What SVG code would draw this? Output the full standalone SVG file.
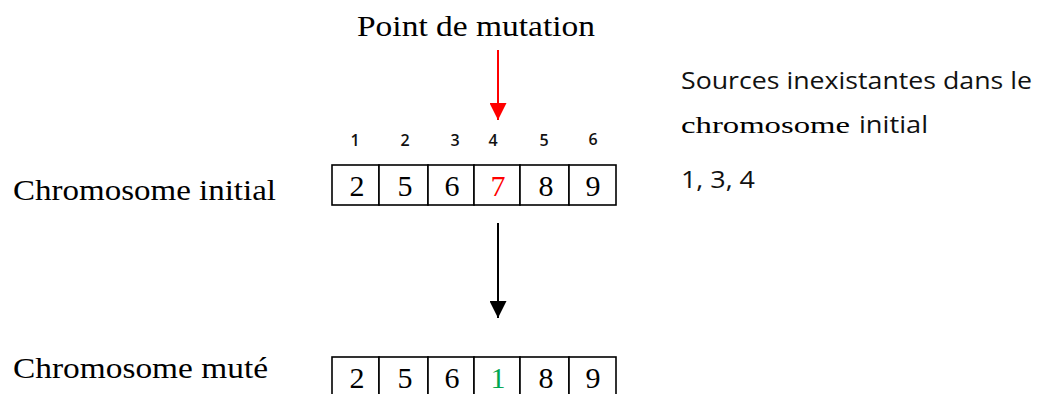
<svg xmlns="http://www.w3.org/2000/svg" width="1037" height="394" viewBox="0 0 1037 394">
  <style>
    .serif { font-family: "Liberation Serif", "DejaVu Serif", serif; fill: #000; }
    .sans { font-family: "Open Sans", "Liberation Sans", sans-serif; fill: #111; }
    .label { font-size: 30px; }
    .gene { font-size: 30px; text-anchor: middle; }
    .idx { font-size: 16px; text-anchor: middle; font-weight: 600; }
    .note { font-size: 23px; }
    .cell { fill: #fff; stroke: #000; stroke-width: 1.6; }
  </style>
  <defs>
    <marker id="headRed" viewBox="0 0 10 10" refX="10" refY="5" markerWidth="17" markerHeight="17" markerUnits="userSpaceOnUse" orient="auto">
      <path d="M0,0 L10,5 L0,10 Z" fill="#ff0000"/>
    </marker>
    <marker id="headBlack" viewBox="0 0 10 10" refX="10" refY="5" markerWidth="17" markerHeight="17" markerUnits="userSpaceOnUse" orient="auto">
      <path d="M0,0 L10,5 L0,10 Z" fill="#000"/>
    </marker>
  </defs>

  <rect width="1037" height="394" fill="#fff"/>

  <g id="title">
    <text class="serif label" x="357" y="36" textLength="238" lengthAdjust="spacingAndGlyphs">Point de mutation</text>
  </g>

  <g id="connectors">
    <line x1="498" y1="50" x2="498" y2="120" stroke="#ff0000" stroke-width="2" marker-end="url(#headRed)"/>
    <line x1="498" y1="223" x2="498" y2="318" stroke="#000" stroke-width="2" marker-end="url(#headBlack)"/>
  </g>

  <g id="positions">
    <text class="sans idx" x="355" y="146">1</text>
    <text class="sans idx" x="405" y="146">2</text>
    <text class="sans idx" x="455" y="146">3</text>
    <text class="sans idx" x="493" y="146">4</text>
    <text class="sans idx" x="544" y="146">5</text>
    <text class="sans idx" x="593" y="145">6</text>
  </g>

  <g id="chromosome-initial">
    <text class="serif label" x="13" y="200" textLength="263" lengthAdjust="spacingAndGlyphs">Chromosome initial</text>
    <rect class="cell" x="332" y="165" width="47" height="40"/>
    <rect class="cell" x="379" y="165" width="49" height="40"/>
    <rect class="cell" x="428" y="165" width="46" height="40"/>
    <rect class="cell" x="474" y="165" width="46" height="40"/>
    <rect class="cell" x="520" y="165" width="49" height="40"/>
    <rect class="cell" x="569" y="165" width="47" height="40"/>
    <text class="serif gene" x="357" y="196">2</text>
    <text class="serif gene" x="405" y="196">5</text>
    <text class="serif gene" x="452" y="196">6</text>
    <text class="serif gene" x="498" y="196" style="fill:#ff0000">7</text>
    <text class="serif gene" x="546" y="196">8</text>
    <text class="serif gene" x="593" y="196">9</text>
  </g>

  <g id="chromosome-mute">
    <text class="serif label" x="13" y="378" textLength="255" lengthAdjust="spacingAndGlyphs">Chromosome muté</text>
    <rect class="cell" x="332" y="357" width="47" height="40"/>
    <rect class="cell" x="379" y="357" width="49" height="40"/>
    <rect class="cell" x="428" y="357" width="46" height="40"/>
    <rect class="cell" x="474" y="357" width="46" height="40"/>
    <rect class="cell" x="520" y="357" width="49" height="40"/>
    <rect class="cell" x="569" y="357" width="47" height="40"/>
    <text class="serif gene" x="357" y="388">2</text>
    <text class="serif gene" x="405" y="388">5</text>
    <text class="serif gene" x="452" y="388">6</text>
    <text class="serif gene" x="498" y="388" style="fill:#00a650">1</text>
    <text class="serif gene" x="546" y="388">8</text>
    <text class="serif gene" x="593" y="388">9</text>
  </g>

  <g id="sources">
    <text class="sans note" x="681" y="89" textLength="351" lengthAdjust="spacingAndGlyphs">Sources inexistantes dans le</text>
    <text class="serif note" x="681" y="133" font-size="25" textLength="169" lengthAdjust="spacingAndGlyphs">chromosome</text>
    <text class="sans note" x="859" y="133" textLength="69" lengthAdjust="spacingAndGlyphs">initial</text>
    <text class="sans note" x="681" y="188" textLength="74" lengthAdjust="spacingAndGlyphs">1, 3, 4</text>
  </g>
</svg>
